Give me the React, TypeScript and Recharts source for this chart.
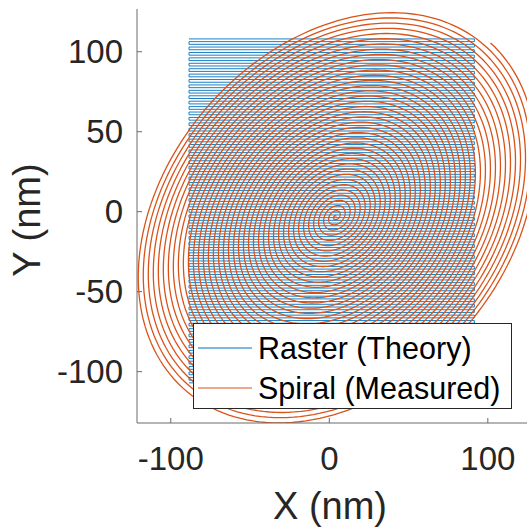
import React from 'react';
import { LineChart, Line, XAxis, YAxis, Legend, Label } from 'recharts';

// ---- axes ----
const xTicks = [-100, 0, 100];
const yTicks = [-100, -50, 0, 50, 100];
const xDomain = [-121.3, 124.7];
const yDomain = [-132.1, 126.7];

// ---- Raster (Theory): horizontal zig-zag scan ----
const rasterXRange = [-88.5, 91.5];
const rasterYRange = [108, -107];
const rasterLineCount = 128;

// ---- Spiral (Measured): tilted elliptical spiral ----
const spiralCenter = [4, -3];
const spiralOuterAxes = [146, 108];
const spiralTiltDeg = 48;
const spiralTurns = 40;
const spiralSamplesPerTurn = 180;

const seriesNames = ['Raster (Theory)', 'Spiral (Measured)'];
const seriesColors = ['#0072BD', '#D95319'];

const rasterData: { x: number; y: number }[] = [];
{
  const step = (rasterYRange[1] - rasterYRange[0]) / (rasterLineCount - 1);
  for (let i = 0; i < rasterLineCount; i++) {
    const y = rasterYRange[0] + i * step;
    if (i % 2 === 0) {
      rasterData.push({ x: rasterXRange[0], y });
      rasterData.push({ x: rasterXRange[1], y });
    } else {
      rasterData.push({ x: rasterXRange[1], y });
      rasterData.push({ x: rasterXRange[0], y });
    }
  }
}

const spiralData: { x: number; y: number }[] = [];
{
  const n = spiralTurns * spiralSamplesPerTurn;
  const phi = (spiralTiltDeg * Math.PI) / 180;
  for (let k = 0; k <= n; k++) {
    const s = k / n;
    const th = 2 * Math.PI * spiralTurns * s;
    const u = spiralOuterAxes[0] * s * Math.cos(th);
    const v = spiralOuterAxes[1] * s * Math.sin(th);
    spiralData.push({
      x: spiralCenter[0] + u * Math.cos(phi) - v * Math.sin(phi),
      y: spiralCenter[1] + u * Math.sin(phi) + v * Math.cos(phi),
    });
  }
}

const FONT = '"Liberation Sans", Arial, Helvetica, sans-serif';
const TEXT = '#262626';
const AXIS = '#6a6a6a';

const renderLegend = (props: any) => {
  const payload = (props.payload || []) as any[];
  return (
    <div
      style={{
        width: 319,
        height: 86,
        boxSizing: 'border-box',
        border: '1px solid #262626',
        background: '#ffffff',
        paddingTop: 4,
        fontFamily: FONT,
        fontSize: 30.5,
        color: '#000',
      }}
    >
      {payload.map((p: any, i: number) => (
        <div key={i} style={{ display: 'flex', alignItems: 'center', height: 40, lineHeight: '40px', whiteSpace: 'nowrap' }}>
          <svg width={64} height={40} style={{ display: 'block' }}>
            <line x1={4} y1={20} x2={58} y2={20} stroke={p.color} strokeWidth={1} />
          </svg>
          <span>{p.value}</span>
        </div>
      ))}
    </div>
  );
};

export default function App() {
  return (
    <div style={{ position: 'absolute', left: 0, top: 0 }}>
      <LineChart width={527} height={527} margin={{ top: 9, right: 0, bottom: 0, left: 0 }}>
        <XAxis
          dataKey="x"
          type="number"
          domain={xDomain}
          allowDataOverflow
          ticks={xTicks}
          height={104}
          tickSize={-5}
          tickMargin={29}
          axisLine={{ stroke: AXIS, strokeWidth: 1 }}
          tickLine={{ stroke: AXIS, strokeWidth: 1 }}
          tick={{ fontSize: 33, fill: TEXT, fontFamily: FONT }}
        >
          <Label
            content={() => (
              <text x={330} y={519} textAnchor="middle" fontSize={38} fill={TEXT} fontFamily={FONT}>
                X (nm)
              </text>
            )}
          />
        </XAxis>
        <YAxis
          dataKey="y"
          type="number"
          domain={yDomain}
          allowDataOverflow
          ticks={yTicks}
          width={137}
          tickSize={-5}
          tickMargin={19}
          axisLine={{ stroke: AXIS, strokeWidth: 1 }}
          tickLine={{ stroke: AXIS, strokeWidth: 1 }}
          tick={{ fontSize: 33, fill: TEXT, fontFamily: FONT }}
        >
          <Label
            content={() => (
              <text
                x={40}
                y={220}
                transform="rotate(-90, 40, 220)"
                textAnchor="middle"
                fontSize={38}
                fill={TEXT}
                fontFamily={FONT}
              >
                Y (nm)
              </text>
            )}
          />
        </YAxis>
        <Line
          name={seriesNames[0]}
          data={rasterData}
          dataKey="y"
          stroke={seriesColors[0]}
          strokeWidth={0.9}
          dot={false}
          activeDot={false}
          isAnimationActive={false}
          type="linear"
        />
        <Line
          name={seriesNames[1]}
          data={spiralData}
          dataKey="y"
          stroke={seriesColors[1]}
          strokeWidth={1.3}
          dot={false}
          activeDot={false}
          isAnimationActive={false}
          type="linear"
        />
        <Legend
          layout="vertical"
          align="center"
          verticalAlign="middle"
          content={renderLegend}
          wrapperStyle={{ left: 193, top: 323, width: 319, height: 86 }}
        />
      </LineChart>
    </div>
  );
}
